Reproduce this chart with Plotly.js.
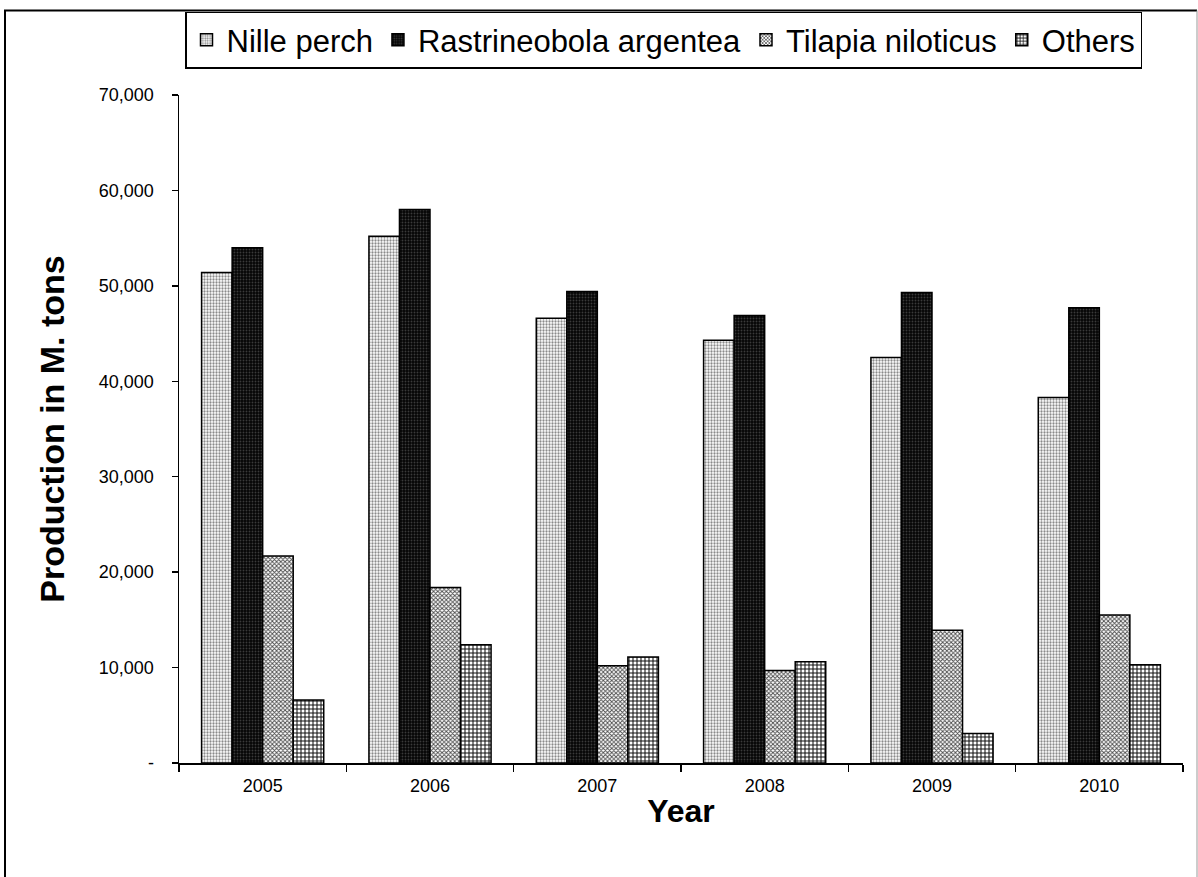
<!DOCTYPE html>
<html>
<head>
<meta charset="utf-8">
<script src="https://cdn.plot.ly/plotly-3.0.1.min.js"></script>
<style>
  html, body { margin: 0; padding: 0; background: #fff; }
  #chart { width: 1198px; height: 877px; }
</style>
</head>
<body>
<div id="chart"></div>
<script>
// Fish production by species, 2005-2010 (metric tons)
const years = ['2005', '2006', '2007', '2008', '2009', '2010'];
const nilePerch = [51400, 55200, 46600, 44300, 42500, 38300];
const rastrineobola = [54000, 58000, 49400, 46900, 49300, 47700];
const tilapia = [21700, 18400, 10200, 9700, 13900, 15500];
const others = [6600, 12400, 11100, 10600, 3100, 10300];
const yTicks = [0, 10000, 20000, 30000, 40000, 50000, 60000, 70000];

const FONT = 'Liberation Sans, Arial, sans-serif';
const outline = { color: '#000', width: 1.5 };

function bars(name, values, pattern) {
  return {
    type: 'bar', name: name, x: years, y: values,
    marker: { color: pattern.bgcolor, line: outline, pattern: pattern },
    hoverinfo: 'x+y+name'
  };
}

const data = [
  bars('Nille perch', nilePerch, { shape: '.', bgcolor: '#ffffff', fgcolor: '#8a8a8a', size: 3, solidity: 0.45, fillmode: 'replace' }),
  bars('Rastrineobola argentea', rastrineobola, { shape: '.', bgcolor: '#050505', fgcolor: '#3a3a3a', size: 3, solidity: 0.3, fillmode: 'replace' }),
  bars('Tilapia niloticus', tilapia, { shape: 'x', bgcolor: '#ffffff', fgcolor: '#4a4a4a', size: 3, solidity: 0.5, fillmode: 'replace' }),
  bars('Others', others, { shape: '+', bgcolor: '#ffffff', fgcolor: '#111111', size: 4, solidity: 0.45, fillmode: 'replace' })
];

// plot area in pixels: x 179..1183, y 91..763
const L = 179, R = 1183, T = 91, B = 763;
const px = v => (v - L) / (R - L);
const py = v => (B - v) / (B - T);

const layout = {
  width: 1198, height: 877,
  margin: { l: L, r: 1198 - R, t: T, b: 877 - B, pad: 0 },
  paper_bgcolor: '#fff', plot_bgcolor: '#fff',
  font: { family: FONT, color: '#000' },
  barmode: 'group', bargap: 0.27, bargroupgap: 0,
  showlegend: true,
  legend: {
    orientation: 'h', x: px(185), y: py(7), xanchor: 'left', yanchor: 'top',
    bordercolor: '#000', borderwidth: 1.5, bgcolor: '#fff',
    font: { family: FONT, size: 31, color: '#000' },
    itemwidth: 30, tracegroupgap: 0
  },
  xaxis: {
    type: 'category', showgrid: false, zeroline: false,
    showline: true, linecolor: '#000', linewidth: 1.5,
    ticks: 'outside', tickson: 'boundaries', ticklen: 7, tickcolor: '#000', tickwidth: 1.5,
    tickfont: { family: FONT, size: 18, color: '#000' },
    ticklabelstandoff: 6,
    title: { text: '<b>Year</b>', font: { family: FONT, size: 32, color: '#000' }, standoff: 4 }
  },
  yaxis: {
    range: [0, 70000], showgrid: false, zeroline: false,
    showline: true, linecolor: '#000', linewidth: 1.5,
    ticks: 'outside', ticklen: 6, tickcolor: '#000', tickwidth: 1.5,
    tickvals: yTicks,
    ticktext: yTicks.map(v => v === 0 ? '-' : v.toLocaleString('en-US')),
    tickfont: { family: FONT, size: 18, color: '#000' },
    ticklabelstandoff: 14,
    title: { text: '<b>Production in M. tons</b>', font: { family: FONT, size: 34, color: '#000' }, standoff: 24 }
  },
  shapes: [
    { type: 'path', xref: 'paper', yref: 'paper',
      path: 'M ' + px(5) + ' ' + py(880) + ' L ' + px(5) + ' ' + py(6) + ' L ' + px(1197) + ' ' + py(6),
      line: { color: '#000', width: 2 } },
    { type: 'line', xref: 'paper', yref: 'paper',
      x0: px(1197), x1: px(1197), y0: py(6), y1: py(880),
      line: { color: '#999', width: 1 } }
  ]
};

Plotly.newPlot('chart', data, layout, { displayModeBar: false, staticPlot: true });
</script>
</body>
</html>
